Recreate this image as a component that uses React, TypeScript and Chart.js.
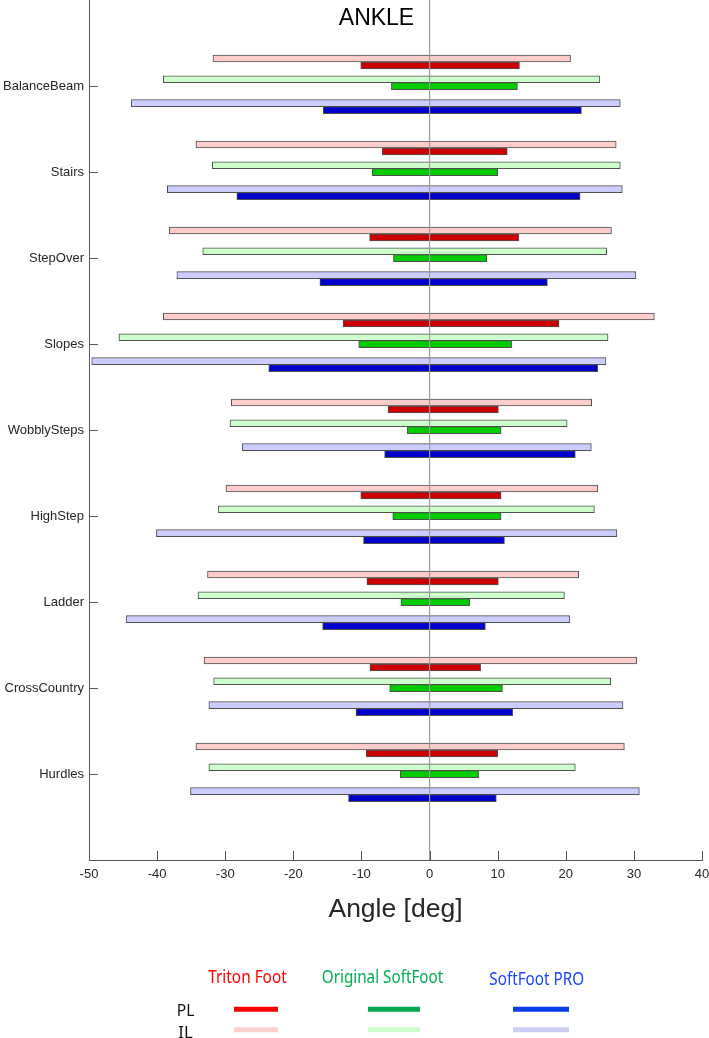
import React, { useEffect, useRef } from 'react';
import { Chart, registerables } from 'chart.js';

Chart.register(...registerables);

// Activities, top to bottom
const CATEGORIES = [
  'BalanceBeam',
  'Stairs',
  'StepOver',
  'Slopes',
  'WobblySteps',
  'HighStep',
  'Ladder',
  'CrossCountry',
  'Hurdles',
];

// Ankle angle ranges [min, max] in degrees, one pair per activity
const TRITON_IL = [
  [-31.8, 20.7], [-34.3, 27.4], [-38.2, 26.7], [-39.1, 33.0], [-29.1, 23.8],
  [-29.9, 24.7], [-32.6, 21.9], [-33.1, 30.4], [-34.3, 28.6],
];
const TRITON_PL = [
  [-10.1, 13.2], [-6.95, 11.4], [-8.8, 13.1], [-12.7, 19.0], [-6.1, 10.1],
  [-10.1, 10.5], [-9.2, 10.1], [-8.75, 7.5], [-9.3, 10.0],
];
const ORIGINAL_IL = [
  [-39.1, 25.0], [-31.9, 28.0], [-33.3, 26.0], [-45.6, 26.2], [-29.3, 20.2],
  [-31.0, 24.2], [-34.0, 19.8], [-31.7, 26.6], [-32.4, 21.4],
];
const ORIGINAL_PL = [
  [-5.6, 12.9], [-8.4, 10.0], [-5.3, 8.4], [-10.4, 12.05], [-3.3, 10.5],
  [-5.4, 10.5], [-4.2, 5.9], [-5.85, 10.7], [-4.3, 7.2],
];
const PRO_IL = [
  [-43.8, 28.0], [-38.5, 28.3], [-37.1, 30.3], [-49.6, 25.9], [-27.5, 23.75],
  [-40.1, 27.5], [-44.55, 20.6], [-32.4, 28.4], [-35.1, 30.8],
];
const PRO_PL = [
  [-15.6, 22.3], [-28.3, 22.1], [-16.1, 17.3], [-23.6, 24.7], [-6.6, 21.4],
  [-9.7, 11.0], [-15.7, 8.2], [-10.8, 12.2], [-11.9, 9.8],
];

const X_MIN = -50;
const X_MAX = 40;
const X_STEP = 10;

const FEET = ['Triton Foot', 'Original SoftFoot', 'SoftFoot PRO'];
const LIMIT_LABELS = ['PL', 'IL'];

// Sizes and styles
const W = 709;
const H = 1038;
const FONT = '"Liberation Sans", Arial, sans-serif';
const LEGEND_FONT = '"Noto Sans", "Open Sans", sans-serif';
const BAR_BORDER = '#4f4f4f';
const AXIS_COLOR = '#555555';
const TEXT_COLOR = '#262626';

// vertical offset of each row inside an activity band (in category units)
const ROW_OFFSET = {
  tritonIL: -0.32,
  tritonPL: -0.238,
  originalIL: -0.079,
  originalPL: 0.002,
  proIL: 0.2,
  proPL: 0.281,
};

function rows(ranges: number[][], offset: number) {
  return ranges.map((r, i) => ({ y: i + 1 + offset, x: r }));
}

function barSet(label: string, ranges: number[][], offset: number, color: string) {
  return {
    label,
    data: rows(ranges, offset),
    backgroundColor: color,
    borderColor: BAR_BORDER,
    borderWidth: 1,
    borderSkipped: false,
    barThickness: 7,
    grouped: false,
  };
}

const LEGEND_COLS = [
  { name: FEET[0], color: '#ff0000', pl: '#ff0000', il: '#ffd0d0', cx: 247.5, w: 78.5, x0: 234, x1: 278, base: 982.7 },
  { name: FEET[1], color: '#00b050', pl: '#00a84f', il: '#ccffcc', cx: 382.5, w: 121.5, x0: 368, x1: 420, base: 982.7 },
  { name: FEET[2], color: '#1a44ff', pl: '#0a3ce8', il: '#ccccf6', cx: 536.7, w: 94.7, x0: 513, x1: 569, base: 985 },
];

function squeezedText(ctx: CanvasRenderingContext2D, text: string, cx: number, base: number, width: number) {
  const m = ctx.measureText(text).width;
  const sx = width / m;
  ctx.save();
  ctx.translate(cx, base);
  ctx.scale(sx, 1);
  ctx.textAlign = 'center';
  ctx.textBaseline = 'alphabetic';
  ctx.fillText(text, 0, 0);
  ctx.restore();
}

const decorations = {
  id: 'decorations',
  afterDatasetsDraw(chart: any) {
    const { ctx, chartArea: a, scales } = chart;
    const xs = scales.x;
    const ys = scales.y;
    ctx.save();

    // zero reference line on top of the bars
    const x0 = xs.getPixelForValue(0);
    ctx.strokeStyle = '#9c9c9c';
    ctx.lineWidth = 1.2;
    ctx.beginPath();
    ctx.moveTo(x0, a.top);
    ctx.lineTo(x0, a.bottom);
    ctx.stroke();

    // inward tick marks
    ctx.strokeStyle = AXIS_COLOR;
    ctx.lineWidth = 1;
    for (let v = X_MIN; v <= X_MAX; v += X_STEP) {
      const px = Math.round(xs.getPixelForValue(v)) + 0.5;
      ctx.beginPath();
      ctx.moveTo(px, a.bottom);
      ctx.lineTo(px, a.bottom - 9);
      ctx.stroke();
    }
    CATEGORIES.forEach((_, i) => {
      const py = Math.round(ys.getPixelForValue(i + 1)) + 0.5;
      ctx.beginPath();
      ctx.moveTo(a.left, py);
      ctx.lineTo(a.left + 9, py);
      ctx.stroke();
    });

    // title
    ctx.fillStyle = '#000000';
    ctx.font = `23px ${FONT}`;
    ctx.textAlign = 'center';
    ctx.textBaseline = 'alphabetic';
    ctx.fillText('ANKLE', 376.5, 25);

    // x axis title
    ctx.fillStyle = TEXT_COLOR;
    ctx.font = `26.5px ${FONT}`;
    ctx.fillText('Angle [deg]', (a.left + a.right) / 2, 917);

    // legend
    ctx.font = `18px ${LEGEND_FONT}`;
    LEGEND_COLS.forEach((c) => {
      ctx.fillStyle = c.color;
      squeezedText(ctx, c.name, c.cx, c.base, c.w);
    });
    ctx.fillStyle = '#111111';
    ctx.font = `16px ${LEGEND_FONT}`;
    squeezedText(ctx, LIMIT_LABELS[0], 185.5, 1015.7, 17.6);
    squeezedText(ctx, LIMIT_LABELS[1], 185.5, 1037.5, 14.4);

    ctx.lineWidth = 5;
    LEGEND_COLS.forEach((c) => {
      ctx.strokeStyle = c.pl;
      ctx.beginPath();
      ctx.moveTo(c.x0, 1009.2);
      ctx.lineTo(c.x1, 1009.2);
      ctx.stroke();
      ctx.strokeStyle = c.il;
      ctx.beginPath();
      ctx.moveTo(c.x0, 1029.8);
      ctx.lineTo(c.x1, 1029.8);
      ctx.stroke();
    });

    ctx.restore();
  },
};

export default function App() {
  const canvasRef = useRef<HTMLCanvasElement | null>(null);

  useEffect(() => {
    const canvas = canvasRef.current;
    if (!canvas) return;

    const chart = new Chart(canvas, {
      type: 'bar',
      data: {
        datasets: [
          barSet('Triton Foot IL', TRITON_IL, ROW_OFFSET.tritonIL, '#ffcccc'),
          barSet('Triton Foot PL', TRITON_PL, ROW_OFFSET.tritonPL, '#cc0000'),
          barSet('Original SoftFoot IL', ORIGINAL_IL, ROW_OFFSET.originalIL, '#ccffcc'),
          barSet('Original SoftFoot PL', ORIGINAL_PL, ROW_OFFSET.originalPL, '#00cc00'),
          barSet('SoftFoot PRO IL', PRO_IL, ROW_OFFSET.proIL, '#ccccff'),
          barSet('SoftFoot PRO PL', PRO_PL, ROW_OFFSET.proPL, '#0000cc'),
        ] as any,
      },
      options: {
        responsive: false,
        animation: false,
        devicePixelRatio: 1,
        indexAxis: 'y',
        layout: { padding: { left: 0, right: 7, top: 0, bottom: 0 } },
        plugins: {
          legend: { display: false },
          tooltip: { enabled: false },
          title: { display: false },
        },
        scales: {
          x: {
            type: 'linear',
            position: 'bottom',
            min: X_MIN,
            max: X_MAX,
            offset: false,
            ticks: {
              stepSize: X_STEP,
              padding: 7,
              color: TEXT_COLOR,
              font: { family: FONT, size: 13 },
            },
            grid: { display: false, drawTicks: false },
            border: { display: true, color: AXIS_COLOR, width: 1 },
            afterFit: (s: any) => {
              s.height = 178;
              s.paddingLeft = 0;
              s.paddingRight = 0;
            },
          },
          y: {
            type: 'linear',
            min: 0,
            max: CATEGORIES.length + 1,
            reverse: true,
            offset: false,
            afterBuildTicks: (s: any) => {
              s.ticks = CATEGORIES.map((_, i) => ({ value: i + 1 }));
            },
            ticks: {
              autoSkip: false,
              padding: 5,
              color: TEXT_COLOR,
              font: { family: FONT, size: 13 },
              callback: (v: any) => CATEGORIES[Math.round(Number(v)) - 1] ?? '',
            },
            grid: { display: false, drawTicks: false },
            border: { display: true, color: AXIS_COLOR, width: 1 },
            afterFit: (s: any) => {
              s.width = 89;
              s.paddingTop = 0;
              s.paddingBottom = 0;
            },
          },
        },
      } as any,
      plugins: [decorations],
    });

    return () => chart.destroy();
  }, []);

  return (
    <div style={{ position: 'absolute', left: 0, top: 0, width: W, height: H, background: '#ffffff' }}>
      <canvas ref={canvasRef} width={W} height={H} style={{ display: 'block', width: W, height: H }} />
    </div>
  );
}
